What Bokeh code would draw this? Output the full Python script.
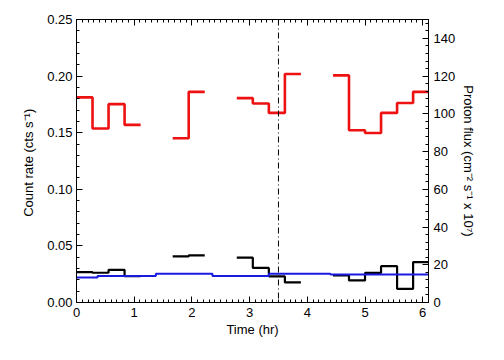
import numpy as np
from bokeh.plotting import figure
from bokeh.models import (Range1d, LinearAxis, FixedTicker, PrintfTickFormatter,
                          CustomJSTickFormatter, Span)
from bokeh.embed import file_html
from bokeh.resources import INLINE

nan = float("nan")

# ---- data -----------------------------------------------------------
bin_width_hr = 1000.0 / 3600.0          # 1000 s bins
count_rate_red = [0.1812, 0.1537, 0.1752, 0.1569, nan, nan, 0.1451, 0.1861,
                  nan, nan, 0.1805, 0.1758, 0.1675, 0.2018, nan, nan,
                  0.2006, 0.1522, 0.1498, 0.1675, 0.1763, 0.1861]
count_rate_black = [0.0268, 0.0263, 0.0289, 0.0232, nan, nan, 0.0407, 0.0416,
                    nan, nan, 0.0396, 0.0305, 0.0230, 0.0177, nan, nan,
                    0.0239, 0.0195, 0.0261, 0.0321, 0.0121, 0.0357]
flux_edges_hr = [0.0, 0.365, 1.375, 2.356, 3.336, 4.40, 6.1]
proton_flux_blue = [13.3, 14.1, 15.2, 14.0, 15.2, 14.8]
event_time_hr = 3.5

time_ticks = [0, 1, 2, 3, 4, 5, 6]
time_minor = [round(0.1 * i, 1) for i in range(0, 62)]
rate_ticks = [0.00, 0.05, 0.10, 0.15, 0.20, 0.25]
rate_minor = [round(0.01 * i, 2) for i in range(0, 26)]
flux_ticks = [0, 20, 40, 60, 80, 100, 120, 140]
flux_minor = [4 * i for i in range(0, 38)]

x_max = 6.1
flux_max = 150


def step_xy(edges, vals):
    xs, ys = [], []
    prev_ok = False
    for i, v in enumerate(vals):
        if np.isnan(v):
            prev_ok = False
            continue
        if not prev_ok and xs:
            xs.append(nan)
            ys.append(nan)
        xs += [edges[i], edges[i + 1]]
        ys += [v, v]
        prev_ok = True
    return xs, ys


bin_edges = [i * bin_width_hr for i in range(len(count_rate_red) + 1)]

FONT = "Liberation Sans"
FS = "13px"

p = figure(width=500, height=350, output_backend="svg", toolbar_location=None,
           x_range=Range1d(0, x_max), y_range=Range1d(0, 0.25),
           min_border_left=76, min_border_right=72, min_border_top=19,
           min_border_bottom=48)
p.extra_y_ranges = {"flux": Range1d(0, flux_max)}
p.grid.visible = False
p.outline_line_color = "black"
p.background_fill_color = "white"
p.border_fill_color = "white"


def style_axis(ax, ticks, minor):
    ax.ticker = FixedTicker(ticks=ticks, minor_ticks=minor)
    ax.major_tick_in = 6
    ax.major_tick_out = 0
    ax.minor_tick_in = 3
    ax.minor_tick_out = 0
    ax.axis_line_color = "black"
    ax.major_tick_line_color = "black"
    ax.minor_tick_line_color = "black"
    ax.major_label_text_font = FONT
    ax.major_label_text_font_size = FS
    ax.major_label_text_color = "black"
    ax.axis_label_text_font = FONT
    ax.axis_label_text_font_size = FS
    ax.axis_label_text_font_style = "normal"
    ax.axis_label_text_color = "black"


xax = p.xaxis[0]
style_axis(xax, time_ticks, time_minor)
xax.axis_label = "Time (hr)"
xax.major_label_standoff = 5
xax.axis_label_standoff = 2

yax = p.yaxis[0]
style_axis(yax, rate_ticks, rate_minor)
yax.formatter = PrintfTickFormatter(format="%.2f")
yax.axis_label = "Count rate (cts  s\u207b\u00b9)"
yax.major_label_standoff = 4
yax.axis_label_standoff = 8

rax = LinearAxis(y_range_name="flux")
style_axis(rax, flux_ticks, flux_minor)
rax.axis_label = "Proton flux (cm\u207b\u00b2 s\u207b\u00b9 x 10\u2077)"
rax.major_label_standoff = 5
rax.axis_label_standoff = 3
p.add_layout(rax, "right")

tax = LinearAxis()
style_axis(tax, time_ticks, time_minor)
tax.formatter = CustomJSTickFormatter(code="return ''")
tax.major_label_standoff = 0
tax.major_label_text_font_size = "1px"
p.add_layout(tax, "above")

rx, ry = step_xy(bin_edges, count_rate_red)
p.line(rx, ry, line_color="#ee1111", line_width=2.6)
bx, by = step_xy(bin_edges, count_rate_black)
p.line(bx, by, line_color="black", line_width=2.2)
fx, fy = step_xy(flux_edges_hr, proton_flux_blue)
p.line(fx, fy, line_color="#1a1adf", line_width=2.0, y_range_name="flux")

p.add_layout(Span(location=event_time_hr, dimension="height", line_color="black",
                  line_width=1, line_dash="6 3 1 3"))

open("out.html", "w").write(file_html(p, INLINE))
